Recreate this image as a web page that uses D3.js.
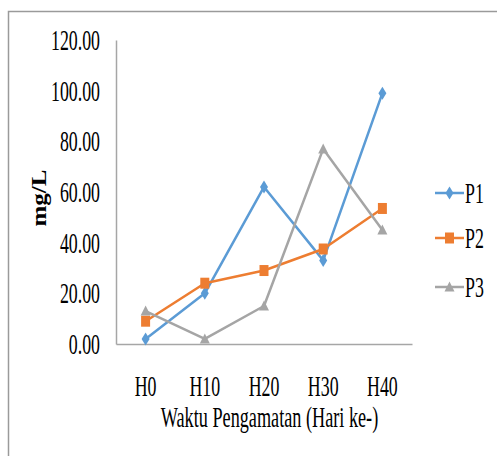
<!DOCTYPE html>
<html>
<head>
<meta charset="utf-8">
<script src="https://cdn.jsdelivr.net/npm/d3@7/dist/d3.min.js"></script>
<style>
  html, body { margin: 0; padding: 0; background: #fff; }
  svg { display: block; }
  text { font-family: "Liberation Serif", "Times New Roman", serif; fill: #000; }
</style>
</head>
<body>
<svg id="chart" width="497" height="456"></svg>
<script>
// Observation days and measured concentration (mg/L) per treatment
const categories = ["H0", "H10", "H20", "H30", "H40"];
const p1 = [2, 20, 62, 33, 99];
const p2 = [9, 24, 29, 37.5, 53.5];
const p3 = [13, 2, 15, 77, 45];
const seriesNames = ["P1", "P2", "P3"];
const yTicks = [0, 20, 40, 60, 80, 100, 120];
const yTitle = "mg/L";
const xTitle = "Waktu Pengamatan (Hari ke-)";

const series = [
  { name: seriesNames[0], values: p1, color: "#5B9BD5", marker: "diamond" },
  { name: seriesNames[1], values: p2, color: "#ED7D31", marker: "square" },
  { name: seriesNames[2], values: p3, color: "#A5A5A5", marker: "triangle" }
];

const svg = d3.select("#chart");
const W = 497, H = 456;
const plot = { left: 116, right: 412, top: 40, bottom: 344 };
const FS = 29, SX = 0.615;   // condensed serif lettering

// outer frame (top and left edges)
svg.append("path")
  .attr("d", `M8.5,${H} V11.5 H${W}`)
  .attr("fill", "none").attr("stroke", "#9a9a9a").attr("stroke-width", 1.5);

const x = d3.scaleBand().domain(categories).range([plot.left, plot.right]);
const y = d3.scaleLinear().domain([0, 120]).range([plot.bottom, plot.top]);
const cx = c => x(c) + x.bandwidth() / 2;

function label(g, tx, ty, str, anchor, opts = {}) {
  return g.append("text")
    .attr("transform", `translate(${tx},${ty}) scale(${opts.sx || SX},1)`)
    .attr("text-anchor", anchor)
    .attr("font-size", opts.fs || FS)
    .text(str);
}

// y axis
const yAxis = d3.axisLeft(y).tickValues(yTicks).tickSize(0).tickFormat(d3.format(".2f"));
const yg = svg.append("g").attr("transform", `translate(${plot.left},0)`).call(yAxis);
yg.select(".domain").attr("stroke", "#a6a6a6").attr("stroke-width", 1.5);
yg.selectAll(".tick text").remove();
yg.selectAll(".tick").each(function(d) {
  label(d3.select(this), -16, 9.5, d3.format(".2f")(d), "end");
});

// x axis
const xAxis = d3.axisBottom(x).tickSize(0);
const xg = svg.append("g").attr("transform", `translate(0,${plot.bottom})`).call(xAxis);
xg.select(".domain").attr("stroke", "#a6a6a6").attr("stroke-width", 1.5);
xg.selectAll(".tick text").remove();
xg.selectAll(".tick").each(function(d) {
  label(d3.select(this), 0, 52, d, "middle");
});

// axis titles
svg.append("text")
  .attr("transform", `translate(46,198) scale(0.85,1) rotate(-90)`)
  .attr("text-anchor", "middle")
  .attr("font-size", 25)
  .attr("font-weight", "bold")
  .text(yTitle);

label(svg, 269.5, 427, xTitle, "middle", { sx: 0.628 });

// marker shapes (taller than wide)
function markerPath(type) {
  if (type === "diamond") return "M0,-6.5 L4,0 L0,6.5 L-4,0 Z";
  if (type === "square") return "M-4.5,-5.5 H4.5 V5.5 H-4.5 Z";
  return "M0,-5.5 L5,4.5 L-5,4.5 Z";
}

const line = d3.line().x((d, i) => cx(categories[i])).y(d => y(d));

series.forEach(s => {
  svg.append("path")
    .datum(s.values)
    .attr("d", line)
    .attr("fill", "none")
    .attr("stroke", s.color)
    .attr("stroke-width", 2.5)
    .attr("stroke-linejoin", "round");
  svg.append("g").selectAll("path")
    .data(s.values)
    .join("path")
    .attr("transform", (d, i) => `translate(${cx(categories[i])},${y(d)})`)
    .attr("d", markerPath(s.marker))
    .attr("fill", s.color);
});

// legend
const legendY = [193, 238, 287];
series.forEach((s, i) => {
  const g = svg.append("g").attr("transform", `translate(435,${legendY[i]})`);
  g.append("line").attr("x1", 0).attr("x2", 29).attr("y1", 0).attr("y2", 0)
    .attr("stroke", s.color).attr("stroke-width", 2.5);
  g.append("path").attr("transform", "translate(14.5,0)")
    .attr("d", markerPath(s.marker)).attr("fill", s.color);
  label(g, 30, 9.5, s.name, "start");
});
</script>
</body>
</html>
